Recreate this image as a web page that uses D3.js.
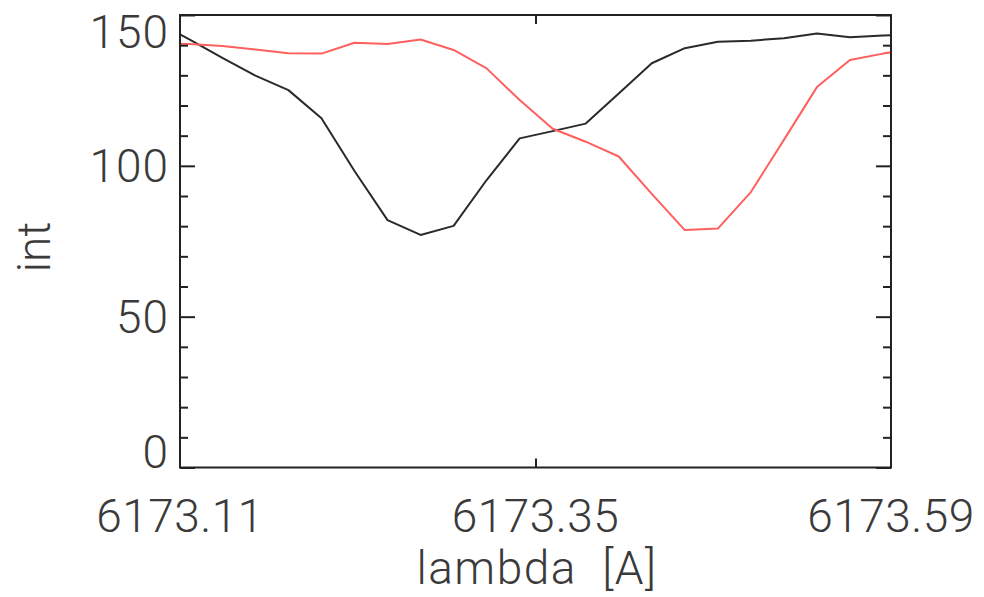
<!DOCTYPE html>
<html>
<head>
<meta charset="utf-8">
<script src="https://cdn.jsdelivr.net/npm/d3@7"></script>
<style>
  html, body { margin: 0; padding: 0; background: #fff; }
  svg { display: block; }
  .lbl { font-family: "Roboto", "DejaVu Sans", sans-serif; font-weight: 300; fill: #3a3a3a; white-space: pre; }
</style>
</head>
<body>
<svg id="chart" width="984" height="597"></svg>
<script>
// Wavelength samples [A]
const lambda = [
  6173.0940, 6173.1163, 6173.1386, 6173.1609, 6173.1832, 6173.2055,
  6173.2278, 6173.2501, 6173.2724, 6173.2947, 6173.3170, 6173.3393,
  6173.3616, 6173.3839, 6173.4062, 6173.4285, 6173.4508, 6173.4731,
  6173.4954, 6173.5177, 6173.5400, 6173.5623, 6173.5846, 6173.6069
];
// Intensity profiles
const intBlack = [
  147.8, 141.9, 135.8, 129.9, 125.1, 115.8, 98.3, 82.0, 77.1, 80.1,
  95.3, 109.1, 111.5, 114.0, 124.0, 134.0, 139.0, 141.1, 141.5, 142.3,
  143.9, 142.6, 143.2, 143.7
];
const intRed = [
  140.7, 140.4, 139.7, 138.6, 137.3, 137.2, 140.8, 140.4, 141.9, 138.4,
  132.3, 121.8, 112.3, 108.0, 103.1, 90.7, 78.7, 79.2, 91.3, 108.6,
  126.1, 135.1, 137.2, 138.9
];
// Axis ranges and ticks
const xRange = [6173.11, 6173.59];
const yRange = [0, 150];
const xTickLabels = [6173.11, 6173.35, 6173.59];
const xInnerTicks = [6173.35];
const yMajor = [0, 50, 100, 150];
const yMinor = [10, 20, 30, 40, 60, 70, 80, 90, 110, 120, 130, 140];

const L = 180, R = 891, T = 15, B = 467.5;
const svg = d3.select("#chart");
const x = d3.scaleLinear().domain(xRange).range([L, R]);
const y = d3.scaleLinear().domain(yRange).range([B, T]);

svg.append("defs").append("clipPath").attr("id", "plotclip")
  .append("rect").attr("x", L).attr("y", T).attr("width", R - L).attr("height", B - T);

// Profiles
const line = d3.line().x((d, i) => x(lambda[i])).y(d => y(d));
const g = svg.append("g").attr("clip-path", "url(#plotclip)");
g.append("path").datum(intBlack).attr("d", line)
  .attr("fill", "none").attr("stroke", "#2a2a2a").attr("stroke-width", 2)
  .attr("stroke-linejoin", "round");
g.append("path").datum(intRed).attr("d", line)
  .attr("fill", "none").attr("stroke", "#ff5f5f").attr("stroke-width", 2)
  .attr("stroke-linejoin", "round");

// Ticks (pointing inward)
function styleAxis(sel) {
  sel.select(".domain").remove();
  sel.selectAll(".tick line").attr("stroke", "#222").attr("stroke-width", 2);
  sel.selectAll(".tick text").remove();
}
svg.append("g").attr("transform", `translate(${L},0)`)
  .call(d3.axisLeft(y).tickValues(yMajor).tickSize(-15)).call(styleAxis);
svg.append("g").attr("transform", `translate(${L},0)`)
  .call(d3.axisLeft(y).tickValues(yMinor).tickSize(-8)).call(styleAxis);
svg.append("g").attr("transform", `translate(${R},0)`)
  .call(d3.axisRight(y).tickValues(yMajor).tickSize(-15)).call(styleAxis);
svg.append("g").attr("transform", `translate(${R},0)`)
  .call(d3.axisRight(y).tickValues(yMinor).tickSize(-8)).call(styleAxis);
svg.append("g").attr("transform", `translate(0,${B})`)
  .call(d3.axisBottom(x).tickValues(xInnerTicks).tickSize(-9)).call(styleAxis);
svg.append("g").attr("transform", `translate(0,${T})`)
  .call(d3.axisTop(x).tickValues(xInnerTicks).tickSize(-9)).call(styleAxis);

// Frame
svg.append("rect").attr("x", L).attr("y", T).attr("width", R - L).attr("height", B - T)
  .attr("fill", "none").attr("stroke", "#222").attr("stroke-width", 2);

// Tick labels
const fs = 46;
svg.selectAll(".ylab").data(yMajor).enter().append("text")
  .attr("class", "lbl")
  .attr("x", 169)
  .attr("y", d => Math.max(T + 16, Math.min(B - 16, y(d))))
  .attr("dy", "0.36em")
  .attr("text-anchor", "end")
  .attr("font-size", fs)
  .attr("letter-spacing", 1)
  .text(d => d);
svg.selectAll(".xlab").data(xTickLabels).enter().append("text")
  .attr("class", "lbl")
  .attr("x", d => x(d))
  .attr("y", 532)
  .attr("text-anchor", "middle")
  .attr("font-size", fs)
  .attr("letter-spacing", 0.5)
  .text(d => d3.format(".2f")(d));

// Axis titles
svg.append("text").attr("class", "lbl")
  .attr("x", 537).attr("y", 584)
  .attr("text-anchor", "middle").attr("font-size", fs)
  .attr("letter-spacing", 1.5)
  .text("lambda  [A]");
svg.append("text").attr("class", "lbl")
  .attr("transform", "translate(50,247) rotate(-90)")
  .attr("text-anchor", "middle").attr("font-size", fs)
  .text("int");
</script>
</body>
</html>
